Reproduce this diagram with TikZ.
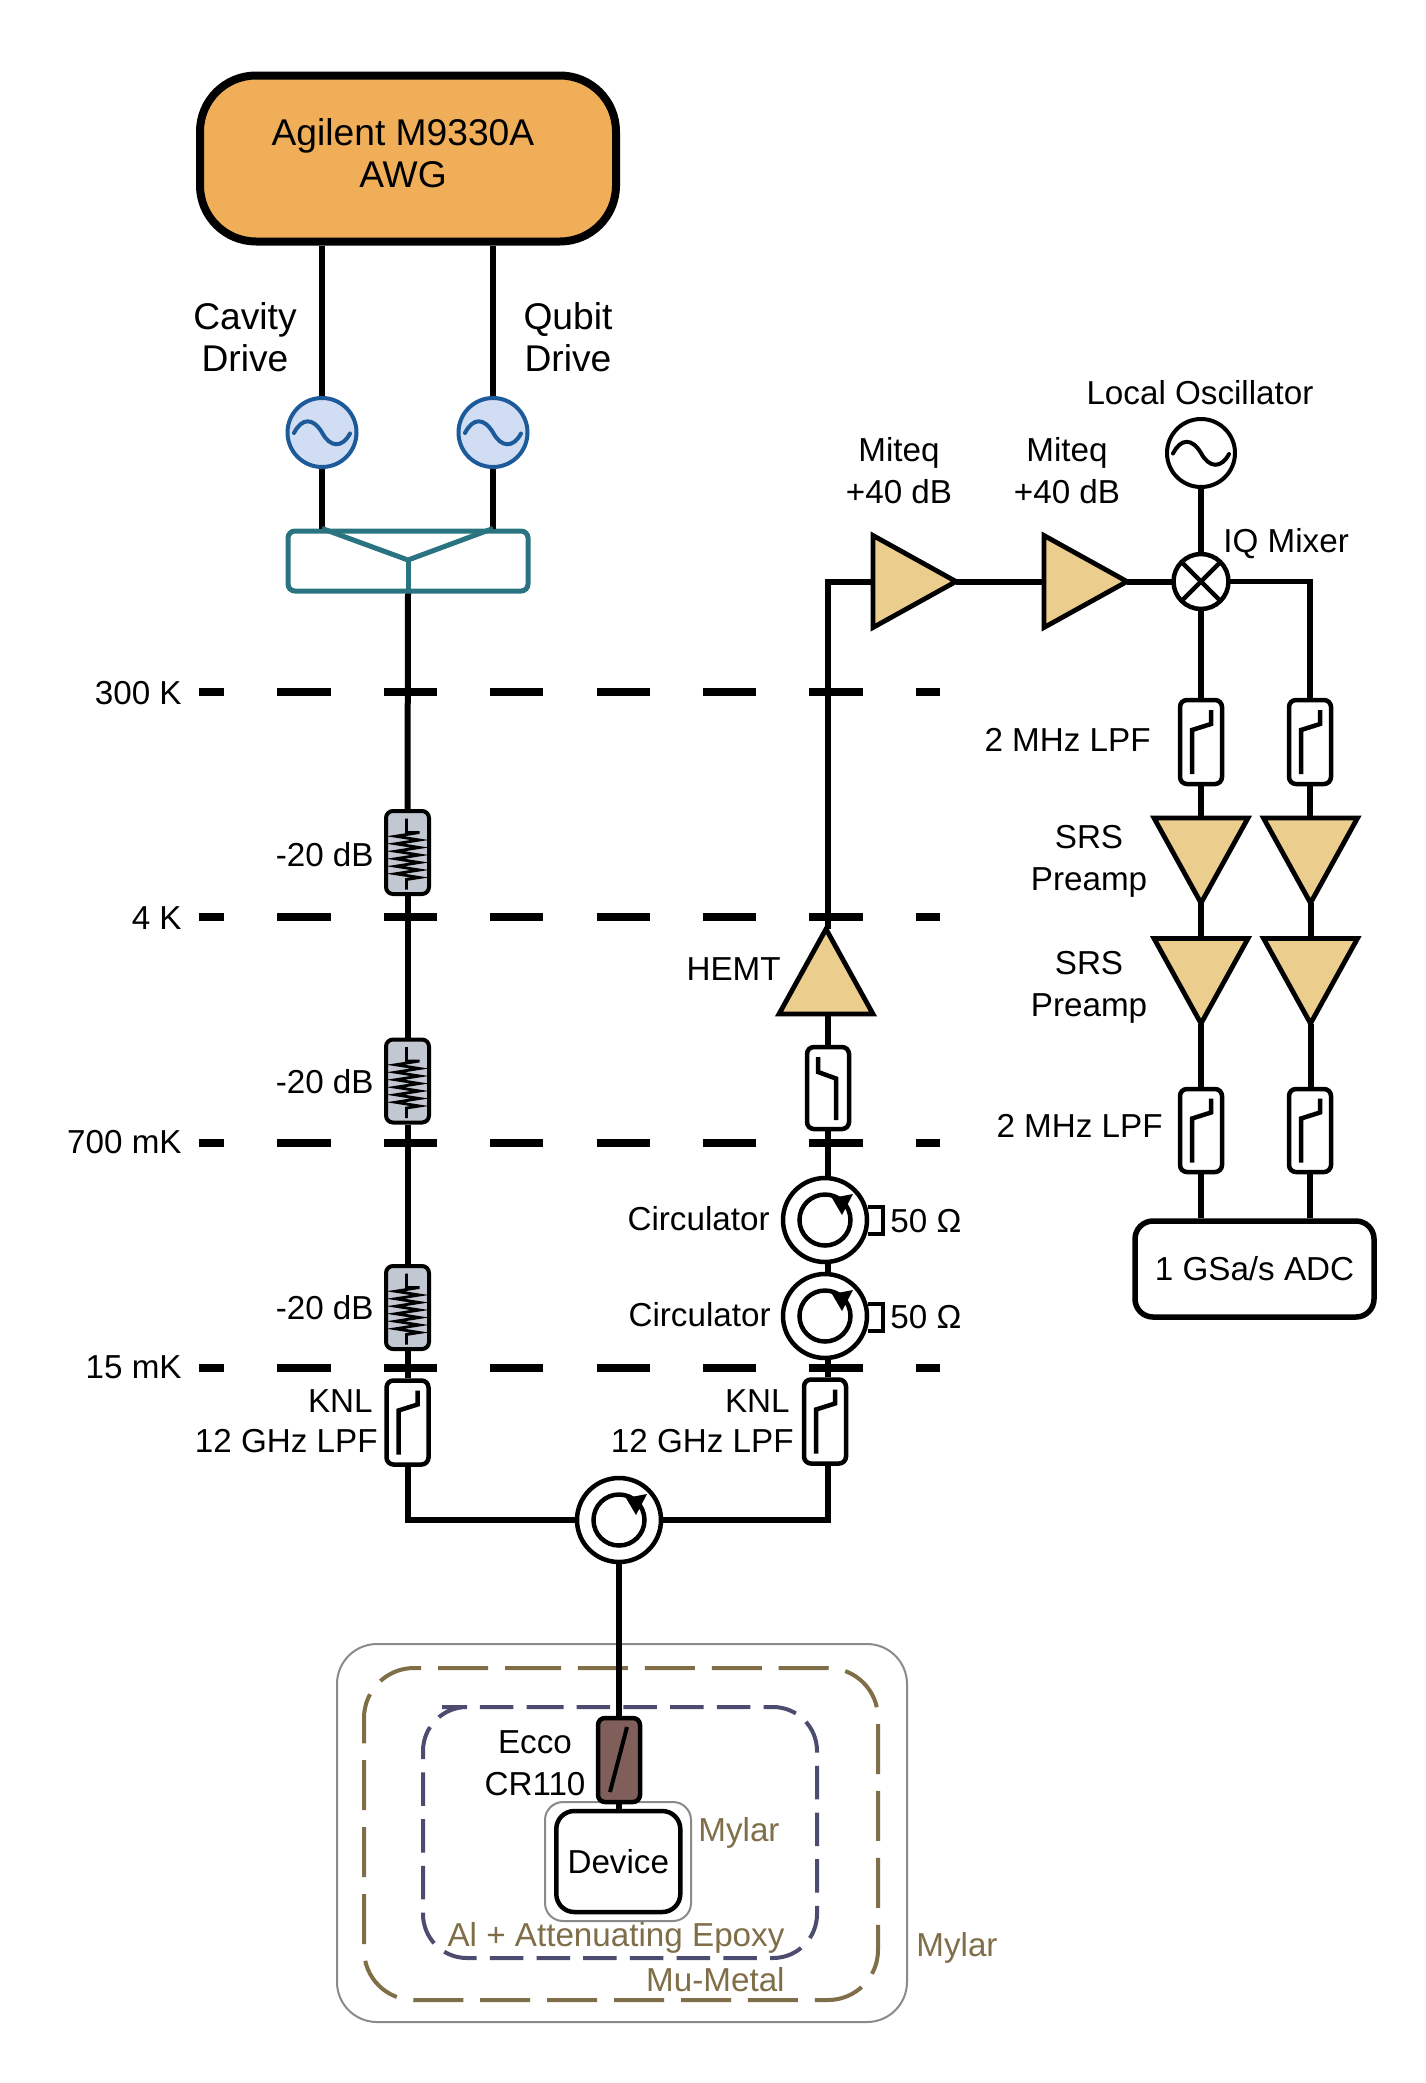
\documentclass[tikz,border=0pt]{standalone}
\usepackage{fontspec}
\setmainfont{Liberation Sans}
\usetikzlibrary{shapes.geometric,calc}
\definecolor{awgfill}{HTML}{F0AE58}
\definecolor{ampfill}{HTML}{EBCD8D}
\definecolor{attfill}{HTML}{C1C8D1}
\definecolor{srcfill}{HTML}{D0DDF3}
\definecolor{srcline}{HTML}{1C5A99}
\definecolor{teal1}{HTML}{2A7380}
\definecolor{eccofill}{HTML}{805F5B}
\definecolor{mylarline}{HTML}{8A8A8A}
\definecolor{brown1}{HTML}{7F6E48}
\definecolor{navy1}{HTML}{4C4C70}
\tikzset{
  wire/.style={line width=3pt,line join=miter},
  thinwire/.style={line width=2.4pt,line join=miter},
  lab/.style={font=\fontsize{16.6}{21}\selectfont,inner sep=0pt,align=center},
  biglab/.style={font=\fontsize{18.6}{21}\selectfont,inner sep=0pt,align=center},
  mylab/.style={lab,text=brown1},
  awgbox/.style={draw,line width=4pt,fill=awgfill,rounded corners=28pt,minimum width=208pt,minimum height=83pt,inner sep=0pt},
  srcnode/.style={circle,draw=srcline,fill=srcfill,line width=2pt,minimum size=34.5pt,inner sep=0pt},
  lonode/.style={circle,draw,fill=white,line width=2pt,minimum size=34pt,inner sep=0pt},
  combbox/.style={draw=teal1,line width=2.5pt,rounded corners=3.5pt,minimum width=120pt,minimum height=30pt,inner sep=0pt},
  attbox/.style={draw,line width=2pt,fill=attfill,rounded corners=3.5pt,minimum width=21.5pt,minimum height=41.5pt,inner sep=0pt},
  lpfbox/.style={draw,line width=2.25pt,fill=white,rounded corners=3.5pt,minimum width=21pt,minimum height=42pt,inner sep=0pt},
  eccobox/.style={lpfbox,fill=eccofill},
  circnode/.style={circle,draw,fill=white,line width=2.25pt,minimum size=42pt,inner sep=0pt},
  mixnode/.style={circle,draw,fill=white,line width=2.25pt,minimum size=27.5pt,inner sep=0pt,outer sep=0pt},
  ampnode/.style={isosceles triangle,isosceles triangle stretches,draw,fill=ampfill,line width=2.4pt,inner sep=0pt,outer sep=0pt,anchor=apex},
  rightamp/.style={ampnode,shape border rotate=0,minimum height=41.5pt,minimum width=46pt},
  upamp/.style={ampnode,shape border rotate=90,minimum height=42.5pt,minimum width=47pt},
  downamp/.style={ampnode,shape border rotate=270,minimum height=42.5pt,minimum width=47pt},
  adcbox/.style={draw,line width=2.75pt,fill=white,rounded corners=9pt,minimum width=119.5pt,minimum height=48pt,inner sep=0pt,font=\fontsize{16.6}{20}\selectfont},
  devbox/.style={draw,line width=2.25pt,fill=white,rounded corners=9pt,minimum width=62pt,minimum height=50.5pt,inner sep=0pt,font=\fontsize{16.6}{20}\selectfont},
  mylarbox/.style={draw=mylarline,line width=1pt,fill=white,rounded corners=9pt,inner sep=0pt},
  stage/.style={line width=4pt,dash pattern=on 26.6pt off 26.6pt,dash phase=14pt},
  glyph/.style={line width=2.25pt,line join=miter},
  mumetal/.style={draw=brown1,line width=2pt,rounded corners=25pt,dash pattern=on 25pt off 8.46pt},
  alshield/.style={draw=navy1,line width=2pt,rounded corners=22pt,dash pattern=on 16.75pt off 6.6pt},
}
\newcommand{\sinesym}[2]{\draw[line width=2pt,line cap=round,#2,shift={(#1.center)}] (-28,0.5) .. controls (-20,-15) and (-9,-15) .. (0,0) .. controls (8,15) and (20,16) .. (28,1);}
\newcommand{\lpfup}[1]{\draw[glyph,shift={(#1.center)}] (-9,32) -- (-9,-12) -- (10,-18) -- (10,-32);}
\newcommand{\lpfdown}[1]{\draw[glyph,shift={(#1.center)}] (-10,-31) -- (-10,-16) -- (8,-9.5) -- (8,32);}
\newcommand{\ressym}[1]{\draw[line width=1.4pt,line join=miter,shift={(#1.center)}] (-1,-34) -- (-1,-20) -- (12,-20) -- (-12,-16.25) -- (12,-12.5) -- (-12,-8.75) -- (12,-5) -- (-12,-1.25) -- (12,2.5) -- (-12,6.25) -- (12,10) -- (-12,13.75) -- (12,17.5) -- (-12,21.25) -- (12,25) -- (-1,27) -- (-1,37);}
\newcommand{\circsym}[1]{\draw[line width=2.25pt,shift={(#1.center)}] (0,0) circle[radius=12.75pt];\fill[shift={(#1.center)}] (28,-26) -- (7,-22) -- (17,-5) -- cycle;}
\begin{document}
\begin{tikzpicture}[x=0.5pt,y=-0.5pt]
\useasboundingbox (0,0) rectangle (1425,2083);
% --- shields
\node[mylarbox,rounded corners=20pt,minimum width=285pt,minimum height=189pt] (outermylar) at (622,1833) {};
\coordinate (mua) at (461,1668);\coordinate (mub) at (878,1668);\coordinate (muc) at (878,2000);\coordinate (mud) at (364,2000);\coordinate (mue) at (364,1668);
\draw[mumetal] (mua) -- (mub) -- (muc) -- (mud) -- (mue) -- cycle;
\coordinate (ala) at (486,1707);\coordinate (alb) at (817,1707);\coordinate (alc) at (817,1958);\coordinate (ald) at (423,1958);\coordinate (ale) at (423,1707);
\draw[alshield] (ala) -- (alb) -- (alc) -- (ald) -- (ale) -- cycle;
\node[mylarbox,minimum width=73pt,minimum height=59.5pt] (innermylar) at (618,1861.5) {};
% --- AWG and drive lines
\node[awgbox] (awg) at (408,158.5) {};
\node[biglab,anchor=base] (awgtext) at (403,187) {Agilent M9330A\\AWG};
\node[srcnode] (s1) at (322,432.5) {};
\node[srcnode] (s2) at (493,432.5) {};
\sinesym{s1}{srcline}
\sinesym{s2}{srcline}
\node[combbox] (comb) at (408,561) {};
\coordinate (cjoin) at (408,560);
\draw[wire] (s1.north) -- (s1.north |- awg.south);
\draw[wire] (s2.north) -- (s2.north |- awg.south);
\draw[wire] (s1.south) -- (s1.south |- comb.north);
\draw[wire] (s2.south) -- (s2.south |- comb.north);
\draw[line width=2.5pt,draw=teal1] (s1.south |- comb.north) -- (cjoin) -- (s2.south |- comb.north);
\draw[line width=2.5pt,draw=teal1] (cjoin) -- (comb.south);
\node[biglab,anchor=base] (cavity) at (245,371) {Cavity\\Drive};
\node[biglab,anchor=base] (qubit) at (568,371) {Qubit\\Drive};
% --- input line
\node[attbox] (at1) at (407.5,852.5) {};
\node[attbox] (at2) at (407.5,1081) {};
\node[attbox] (at3) at (407.5,1307.5) {};
\ressym{at1}\ressym{at2}\ressym{at3}
\node[lpfbox] (knll) at (407.5,1422.5) {};
\lpfup{knll}
\draw[wire] (comb.south) -- (at1.north);
\draw[wire] (at1.south) -- (at2.north);
\draw[wire] (at2.south) -- (at3.north);
\draw[wire] (at3.south) -- (knll.north);
\node[lab,anchor=base east] (att1t) at (374,866) {-20 dB};
\node[lab,anchor=base east] (att2t) at (374,1093) {-20 dB};
\node[lab,anchor=base east] (att3t) at (374,1319) {-20 dB};
\node[lab,anchor=base east] (knl1t) at (373,1412) {KNL};
\node[lab,anchor=base east] (lpf1t) at (378,1452) {12 GHz LPF};
% --- output line
\node[lpfbox,minimum height=41pt] (hf) at (828,1088) {};
\lpfdown{hf}
\node[upamp] (hemt) at (826,929) {};
\node[circnode] (c1) at (825,1220) {};
\node[circnode] (c2) at (825,1316) {};
\circsym{c1}\circsym{c2}
\node[lpfbox] (knlr) at (825,1421.5) {};
\lpfup{knlr}
\node[circnode] (c3) at (619,1520) {};
\circsym{c3}
\coordinate (stub1a) at (868,1207);\coordinate (stub1b) at (883,1207);\coordinate (stub1c) at (883,1234);\coordinate (stub1d) at (868,1234);
\coordinate (stub2a) at (868,1304);\coordinate (stub2b) at (883,1304);\coordinate (stub2c) at (883,1331);\coordinate (stub2d) at (868,1331);
\draw[line width=2pt] (stub1a) -- (stub1b) -- (stub1c) -- (stub1d);
\draw[line width=2pt] (stub2a) -- (stub2b) -- (stub2c) -- (stub2d);
\draw[wire] (hf.north) -- (hf.north |- hemt.lower side);
\draw[wire] (hf.south) -- (hf.south |- c1.north);
\draw[wire] (hf.south |- c1.south) -- (hf.south |- c2.north);
\draw[wire] (hf.south |- c2.south) -- (hf.south |- knlr.north);
\draw[wire] (hf.south |- knlr.south) |- (c3.east);
\draw[wire] (knll.south) |- (c3.west);
\node[lab,anchor=base east] (hemtt) at (781,980) {HEMT};
\node[lab,anchor=base east] (c1t) at (770,1230) {Circulator};
\node[lab,anchor=base east] (c2t) at (771,1326) {Circulator};
\node[lab,anchor=base west] (o1t) at (890,1232) {50 Ω};
\node[lab,anchor=base west] (o2t) at (890,1328) {50 Ω};
\node[lab,anchor=base east] (knl2t) at (790,1412) {KNL};
\node[lab,anchor=base east] (lpf2t) at (794,1452) {12 GHz LPF};
% --- room temperature chain
\node[rightamp] (a1) at (956,581.5) {};
\node[rightamp] (a2) at (1127,581.5) {};
\node[mixnode] (mix) at (1201,581.5) {};
\draw[line width=2.25pt] (mix.45) -- (mix.225);
\draw[line width=2.25pt] (mix.135) -- (mix.315);
\node[lonode] (lo) at (1201,453) {};
\sinesym{lo}{black}
\draw[wire] (hf.north |- hemt.apex) -- (hf.north |- a1.lower side) -- (a1.lower side);
\draw[wire] (a1.apex) -- (a2.lower side);
\draw[wire] (a2.apex) -- (mix.west);
\draw[wire] (lo.south) -- (mix.north);
\node[lpfbox] (f1) at (1201,742) {};
\node[lpfbox] (f2) at (1310,742) {};
\lpfup{f1}\lpfup{f2}
\node[downamp] (p1) at (1201,903) {};
\node[downamp] (p2) at (1310.5,903) {};
\node[downamp] (p3) at (1201,1023.5) {};
\node[downamp] (p4) at (1310.5,1023.5) {};
\node[lpfbox,minimum height=41.5pt] (f3) at (1201,1130.5) {};
\node[lpfbox,minimum height=41.5pt] (f4) at (1310,1130.5) {};
\lpfup{f3}\lpfup{f4}
\node[adcbox] (adc) at (1254.5,1269) {1 GSa/s ADC};
\draw[wire] (mix.south) -- (f1.north);
\coordinate (mixcorner) at (f2.north |- mix.east);
\draw[thinwire] (mix.east) -- ([xshift=1.5pt]mixcorner);
\draw[wire] (mixcorner) ++(0,-2.4) -- (f2.north);
\draw[wire] (f1.south) -- (f1.south |- p1.lower side);
\draw[wire] (f2.south) -- (f2.south |- p2.lower side);
\draw[wire] (p1.apex) -- (p1.apex |- p3.lower side);
\draw[wire] (p2.apex) -- (p2.apex |- p4.lower side);
\draw[wire] (p3.apex) -- (p3.apex |- f3.north);
\draw[wire] (p4.apex) -- (p4.apex |- f4.north);
\draw[wire] (f3.south) -- (f3.south |- adc.north);
\draw[wire] (f4.south) -- (f4.south |- adc.north);
\node[lab,anchor=base] (m1t) at (899,503) {Miteq\\+40 dB};
\node[lab,anchor=base] (m2t) at (1067,503) {Miteq\\+40 dB};
\node[lab,anchor=base] (lot) at (1200,404) {Local Oscillator};
\node[lab,anchor=base west] (iqt) at (1223,552) {IQ Mixer};
\node[lab,anchor=base east] (f1t) at (1151,751) {2 MHz LPF};
\node[lab,anchor=base east] (f3t) at (1163,1137) {2 MHz LPF};
\node[lab,anchor=base] (p1t) at (1089,890) {SRS\\Preamp};
\node[lab,anchor=base] (p3t) at (1089,1016) {SRS\\Preamp};
% --- temperature stages
\coordinate (l300) at (199,692);\coordinate (r300) at (940,692);
\coordinate (l4) at (199,917);\coordinate (r4) at (940,917);
\coordinate (l700) at (199,1143);\coordinate (r700) at (940,1143);
\coordinate (l15) at (199,1368);\coordinate (r15) at (940,1368);
\draw[stage] (l300) -- (r300);
\draw[stage] (l4) -- (r4);
\draw[stage] (l700) -- (r700);
\draw[stage] (l15) -- (r15);
\node[lab,anchor=base east] (t300) at (182,704) {300 K};
\node[lab,anchor=base east] (t4) at (182,929) {4 K};
\node[lab,anchor=base east] (t700) at (182,1153) {700 mK};
\node[lab,anchor=base east] (t15) at (182,1378) {15 mK};
% --- device and filter
\node[eccobox] (ecco) at (619,1760) {};
\draw[line width=2pt,shift={(ecco.center)}] (8,-33) -- (-9,32);
\node[devbox] (dev) at (618.3,1861.5) {Device};
\draw[wire] (c3.south) -- (ecco.north);
\draw[wire] (ecco.south) -- (ecco.south |- dev.north);
\node[lab,anchor=base] (eccot) at (535,1795) {Ecco\\CR110};
\node[mylab,anchor=base west] (my1) at (698,1841) {Mylar};
\node[mylab,anchor=base west] (my2) at (916,1956) {Mylar};
\node[mylab,anchor=base] (alt) at (616,1946) {Al + Attenuating Epoxy};
\node[mylab,anchor=base east] (mut) at (785,1991) {Mu-Metal};
\end{tikzpicture}
\end{document}
